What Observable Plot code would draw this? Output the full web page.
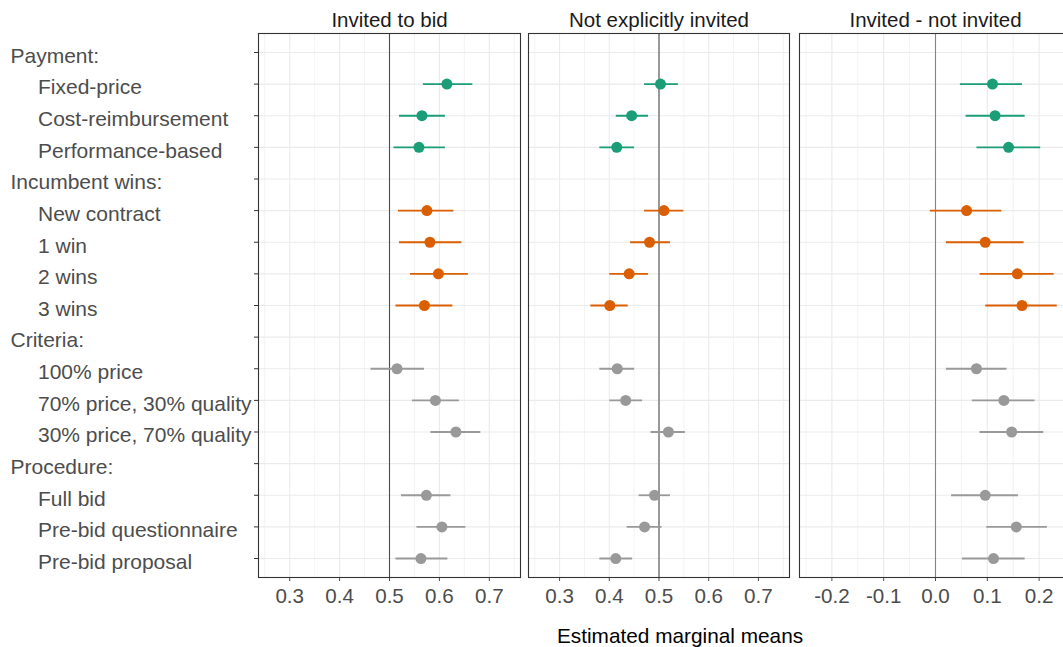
<!DOCTYPE html>
<html>
<head>
<meta charset="utf-8">
<script src="https://cdn.jsdelivr.net/npm/d3@7"></script>
<script src="https://cdn.jsdelivr.net/npm/@observablehq/plot@0.6"></script>
<style>
  html, body { margin: 0; padding: 0; background: #fff; }
  body { width: 1063px; height: 647px; overflow: hidden; position: relative; font-family: "Liberation Sans", Arial, sans-serif; }
  .panel { position: absolute; top: 0; }
  .panel svg { max-width: none !important; height: 647px !important; }
  #xtitle { position: absolute; left: 430px; width: 500px; top: 626px; text-align: center; font-size: 20.8px; line-height: 20px; color: #000; }
</style>
</head>
<body>
<div id="p1" class="panel" style="left:0px;width:521px"></div>
<div id="p2" class="panel" style="left:520px;width:270px"></div>
<div id="p3" class="panel" style="left:789px;width:285px"></div>
<div id="xtitle">Estimated marginal means</div>
<script>
// ---- data ----
const rowLabels = ["Payment:", "Fixed-price", "Cost-reimbursement", "Performance-based",
  "Incumbent wins:", "New contract", "1 win", "2 wins", "3 wins",
  "Criteria:", "100% price", "70% price, 30% quality", "30% price, 70% quality",
  "Procedure:", "Full bid", "Pre-bid questionnaire", "Pre-bid proposal"];
const headerLabels = ["Payment:", "Incumbent wins:", "Criteria:", "Procedure:"];
const itemLabels = ["Fixed-price", "Cost-reimbursement", "Performance-based",
  "New contract", "1 win", "2 wins", "3 wins",
  "100% price", "70% price, 30% quality", "30% price, 70% quality",
  "Full bid", "Pre-bid questionnaire", "Pre-bid proposal"];
const itemGroup = ["Payment", "Payment", "Payment",
  "Incumbent wins", "Incumbent wins", "Incumbent wins", "Incumbent wins",
  "Criteria", "Criteria", "Criteria",
  "Procedure", "Procedure", "Procedure"];
const groupNames = ["Payment", "Incumbent wins", "Criteria", "Procedure"];
const groupColors = ["#1b9e77", "#d95f02", "#999999", "#999999"];

const panelTitles = ["Invited to bid", "Not explicitly invited", "Invited - not invited"];

const invitedEst = [0.615, 0.565, 0.559, 0.575, 0.581, 0.598, 0.570, 0.515, 0.592, 0.633, 0.574, 0.605, 0.563];
const invitedLo  = [0.568, 0.520, 0.509, 0.518, 0.520, 0.542, 0.513, 0.463, 0.546, 0.583, 0.524, 0.555, 0.513];
const invitedHi  = [0.667, 0.612, 0.612, 0.629, 0.645, 0.658, 0.627, 0.570, 0.640, 0.683, 0.623, 0.653, 0.617];

const notInvitedEst = [0.503, 0.445, 0.415, 0.510, 0.481, 0.440, 0.401, 0.416, 0.433, 0.519, 0.491, 0.471, 0.413];
const notInvitedLo  = [0.471, 0.414, 0.381, 0.471, 0.443, 0.401, 0.363, 0.381, 0.401, 0.484, 0.460, 0.436, 0.381];
const notInvitedHi  = [0.539, 0.479, 0.451, 0.550, 0.523, 0.479, 0.438, 0.451, 0.467, 0.553, 0.523, 0.506, 0.447];

const diffEst = [0.110, 0.115, 0.141, 0.060, 0.096, 0.158, 0.167, 0.079, 0.132, 0.147, 0.096, 0.156, 0.112];
const diffLo  = [0.048, 0.059, 0.080, -0.010, 0.021, 0.086, 0.097, 0.021, 0.071, 0.086, 0.031, 0.099, 0.052];
const diffHi  = [0.168, 0.173, 0.203, 0.128, 0.171, 0.229, 0.235, 0.138, 0.192, 0.209, 0.160, 0.216, 0.173];

const meansTicks = [0.3, 0.4, 0.5, 0.6, 0.7];
const meansMinor = [0.25, 0.35, 0.45, 0.55, 0.65, 0.75];
const diffTicks = [-0.2, -0.1, 0.0, 0.1, 0.2];
const diffMinor = [-0.25, -0.15, -0.05, 0.05, 0.15, 0.25];

// ---- build ----
function rowsOf(est, lo, hi) {
  return itemLabels.map((label, i) => ({label, group: itemGroup[i], est: est[i], lo: lo[i], hi: hi[i]}));
}

function panel({title, data, domain, ticks, minor, ref, refColor, width, marginLeft, marginRight, showY}) {
  const marks = [
    Plot.gridX(minor, {stroke: "#ebebeb", strokeOpacity: 1, strokeWidth: 0.6}),
    Plot.gridX(ticks, {stroke: "#ebebeb", strokeOpacity: 1, strokeWidth: 1.1}),
    Plot.gridY({stroke: "#ebebeb", strokeOpacity: 1, strokeWidth: 1.1}),
    Plot.ruleX([ref], {stroke: refColor, strokeWidth: 1.1}),
    Plot.ruleY(data, {y: "label", x1: "lo", x2: "hi", stroke: "group", strokeWidth: 1.8}),
    Plot.dot(data, {x: "est", y: "label", fill: "group", r: 5.5}),
    Plot.axisX({ticks, tickSize: 4, tickPadding: 6.5, fontSize: 20.6, color: "#4d4d4d",
      tickFormat: d => d.toFixed(1), label: null}),
    Plot.text([title], {text: d => d, frameAnchor: "top", lineAnchor: "bottom", dy: -6.5,
      fontSize: 20.5, fill: "#1a1a1a"}),
    Plot.frame({stroke: "#333333", strokeWidth: 1.1})
  ];
  if (showY) {
    marks.push(
      Plot.axisY({tickSize: 4, tickFormat: () => "", color: "#333333", label: null}),
      Plot.text(headerLabels, {y: d => d, text: d => d, frameAnchor: "left", textAnchor: "start",
        dx: -248, dy: 3.6, fontSize: 21, fill: "#4d4d4d"}),
      Plot.text(itemLabels, {y: d => d, text: d => d, frameAnchor: "left", textAnchor: "start",
        dx: -220.5, dy: 3.6, fontSize: 21, fill: "#4d4d4d"})
    );
  }
  return Plot.plot({
    width, height: 647,
    marginLeft, marginRight, marginTop: 33, marginBottom: 70,
    style: {fontFamily: "'Liberation Sans', Arial, sans-serif", fontSize: "20px", background: "transparent", overflow: "visible"},
    x: {domain, axis: null},
    y: {type: "point", domain: rowLabels, padding: 0.6, round: false, axis: null},
    color: {domain: groupNames, range: groupColors},
    marks
  });
}

document.getElementById("p1").append(panel({
  title: panelTitles[0], data: rowsOf(invitedEst, invitedLo, invitedHi),
  domain: [0.2375, 0.7625], ticks: meansTicks, minor: meansMinor, ref: 0.5, refColor: "#4d4d4d",
  width: 521, marginLeft: 258, marginRight: 1, showY: true
}));
document.getElementById("p2").append(panel({
  title: panelTitles[1], data: rowsOf(notInvitedEst, notInvitedLo, notInvitedHi),
  domain: [0.2375, 0.7625], ticks: meansTicks, minor: meansMinor, ref: 0.5, refColor: "#4d4d4d",
  width: 270, marginLeft: 8, marginRight: 1, showY: false
}));
document.getElementById("p3").append(panel({
  title: panelTitles[2], data: rowsOf(diffEst, diffLo, diffHi),
  domain: [-0.2625, 0.2625], ticks: diffTicks, minor: diffMinor, ref: 0, refColor: "#858585",
  width: 285, marginLeft: 10, marginRight: 3, showY: false
}));
</script>
</body>
</html>
